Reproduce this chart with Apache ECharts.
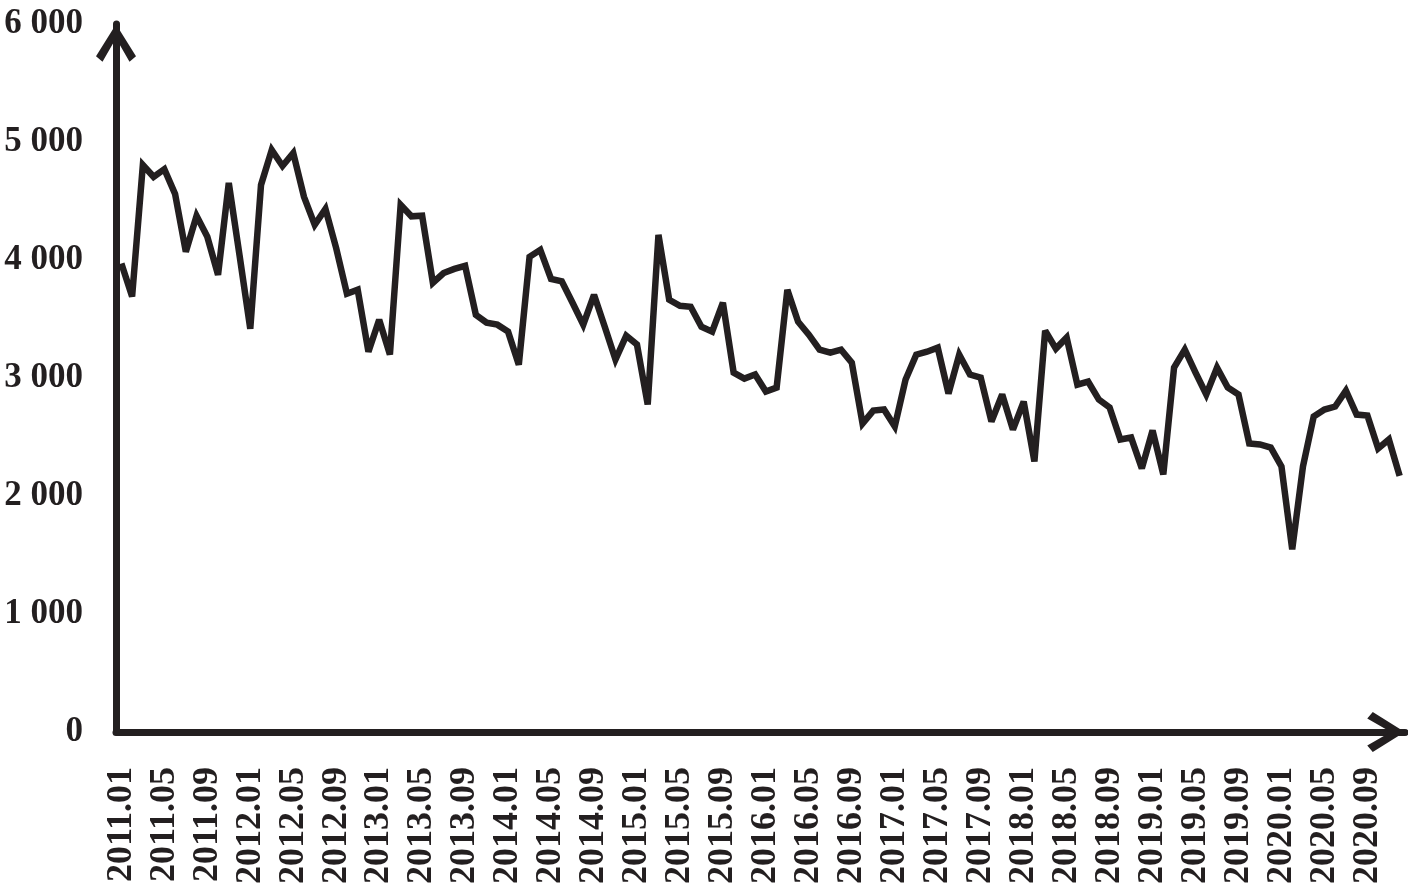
<!DOCTYPE html>
<html>
<head>
<meta charset="utf-8">
<script src="https://cdn.jsdelivr.net/npm/echarts@6/dist/echarts.min.js"></script>
<style>
html,body{margin:0;padding:0;background:#fff;}
#chart{width:1408px;height:887px;}
</style>
</head>
<body>
<div id="chart"></div>
<script>
const categories = [
"2011.01","2011.02","2011.03","2011.04","2011.05","2011.06","2011.07","2011.08","2011.09","2011.10","2011.11","2011.12",
"2012.01","2012.02","2012.03","2012.04","2012.05","2012.06","2012.07","2012.08","2012.09","2012.10","2012.11","2012.12",
"2013.01","2013.02","2013.03","2013.04","2013.05","2013.06","2013.07","2013.08","2013.09","2013.10","2013.11","2013.12",
"2014.01","2014.02","2014.03","2014.04","2014.05","2014.06","2014.07","2014.08","2014.09","2014.10","2014.11","2014.12",
"2015.01","2015.02","2015.03","2015.04","2015.05","2015.06","2015.07","2015.08","2015.09","2015.10","2015.11","2015.12",
"2016.01","2016.02","2016.03","2016.04","2016.05","2016.06","2016.07","2016.08","2016.09","2016.10","2016.11","2016.12",
"2017.01","2017.02","2017.03","2017.04","2017.05","2017.06","2017.07","2017.08","2017.09","2017.10","2017.11","2017.12",
"2018.01","2018.02","2018.03","2018.04","2018.05","2018.06","2018.07","2018.08","2018.09","2018.10","2018.11","2018.12",
"2019.01","2019.02","2019.03","2019.04","2019.05","2019.06","2019.07","2019.08","2019.09","2019.10","2019.11","2019.12",
"2020.01","2020.02","2020.03","2020.04","2020.05","2020.06","2020.07","2020.08","2020.09","2020.10","2020.11","2020.12"
];

const values = [
3970, 3690, 4805, 4705, 4770, 4560, 4070, 4374, 4197, 3875, 4653, 4040,
3418, 4636, 4932, 4797, 4907, 4535, 4298, 4433, 4100, 3714, 3748, 3223,
3494, 3198, 4467, 4370, 4375, 3807, 3890, 3925, 3950, 3536, 3469, 3452,
3393, 3113, 4027, 4086, 3840, 3820, 3638, 3452, 3705, 3435, 3156, 3359,
3283, 2775, 4213, 3663, 3612, 3604, 3435, 3393, 3638, 3046, 2995, 3029,
2885, 2919, 3748, 3477, 3367, 3240, 3215, 3240, 3130, 2614, 2724, 2733,
2589, 2986, 3198, 3223, 3257, 2868, 3198, 3029, 3003, 2631, 2860, 2563,
2800, 2293, 3401, 3249, 3342, 2944, 2970, 2817, 2750, 2479, 2496, 2234,
2555, 2183, 3088, 3240, 3046, 2860, 3088, 2919, 2860, 2445, 2437, 2411,
2250, 1548, 2250, 2673, 2733, 2758, 2893, 2690, 2682, 2403, 2479, 2170
];

const yTicks = [0, 1000, 2000, 3000, 4000, 5000, 6000];

const ink = '#231f20';
const font = '"Liberation Serif", "Times New Roman", serif';
const chevron = 'path://M20 0 L40 32 L33.5 37.5 L20 14 L6.5 37.5 L0 32 Z';

const chart = echarts.init(document.getElementById('chart'), null, {renderer: 'canvas'});
chart.setOption({
  animation: false,
  backgroundColor: '#ffffff',
  grid: {left: 116, right: 3, top: 24, bottom: 154, containLabel: false},
  xAxis: {
    type: 'category',
    data: categories,
    boundaryGap: true,
    axisLine: {
      show: true,
      lineStyle: {color: ink, width: 7},
      symbol: ['none', chevron],
      symbolSize: [40, 38],
      symbolOffset: [0, -19]
    },
    axisTick: {show: false},
    splitLine: {show: false},
    axisLabel: {
      interval: 3,
      rotate: 90,
      margin: 35,
      color: ink,
      fontFamily: font,
      fontWeight: 'bold',
      fontSize: 36
    }
  },
  yAxis: {
    type: 'value',
    min: yTicks[0],
    max: yTicks[yTicks.length - 1],
    interval: 1000,
    axisLine: {
      show: true,
      lineStyle: {color: ink, width: 7},
      symbol: ['none', chevron],
      symbolSize: [40, 38],
      symbolOffset: [0, -19]
    },
    axisTick: {show: false},
    splitLine: {show: false},
    axisLabel: {
      margin: 33,
      color: ink,
      fontFamily: font,
      fontWeight: 'bold',
      fontSize: 35,
      formatter: function (v) {
        return String(v).replace(/\B(?=(\d{3})+(?!\d))/g, ' ');
      }
    }
  },
  series: [{
    type: 'line',
    data: values,
    symbol: 'none',
    lineStyle: {color: ink, width: 6.5, join: 'miter', miterLimit: 3},
    z: 5
  }]
});
</script>
</body>
</html>
